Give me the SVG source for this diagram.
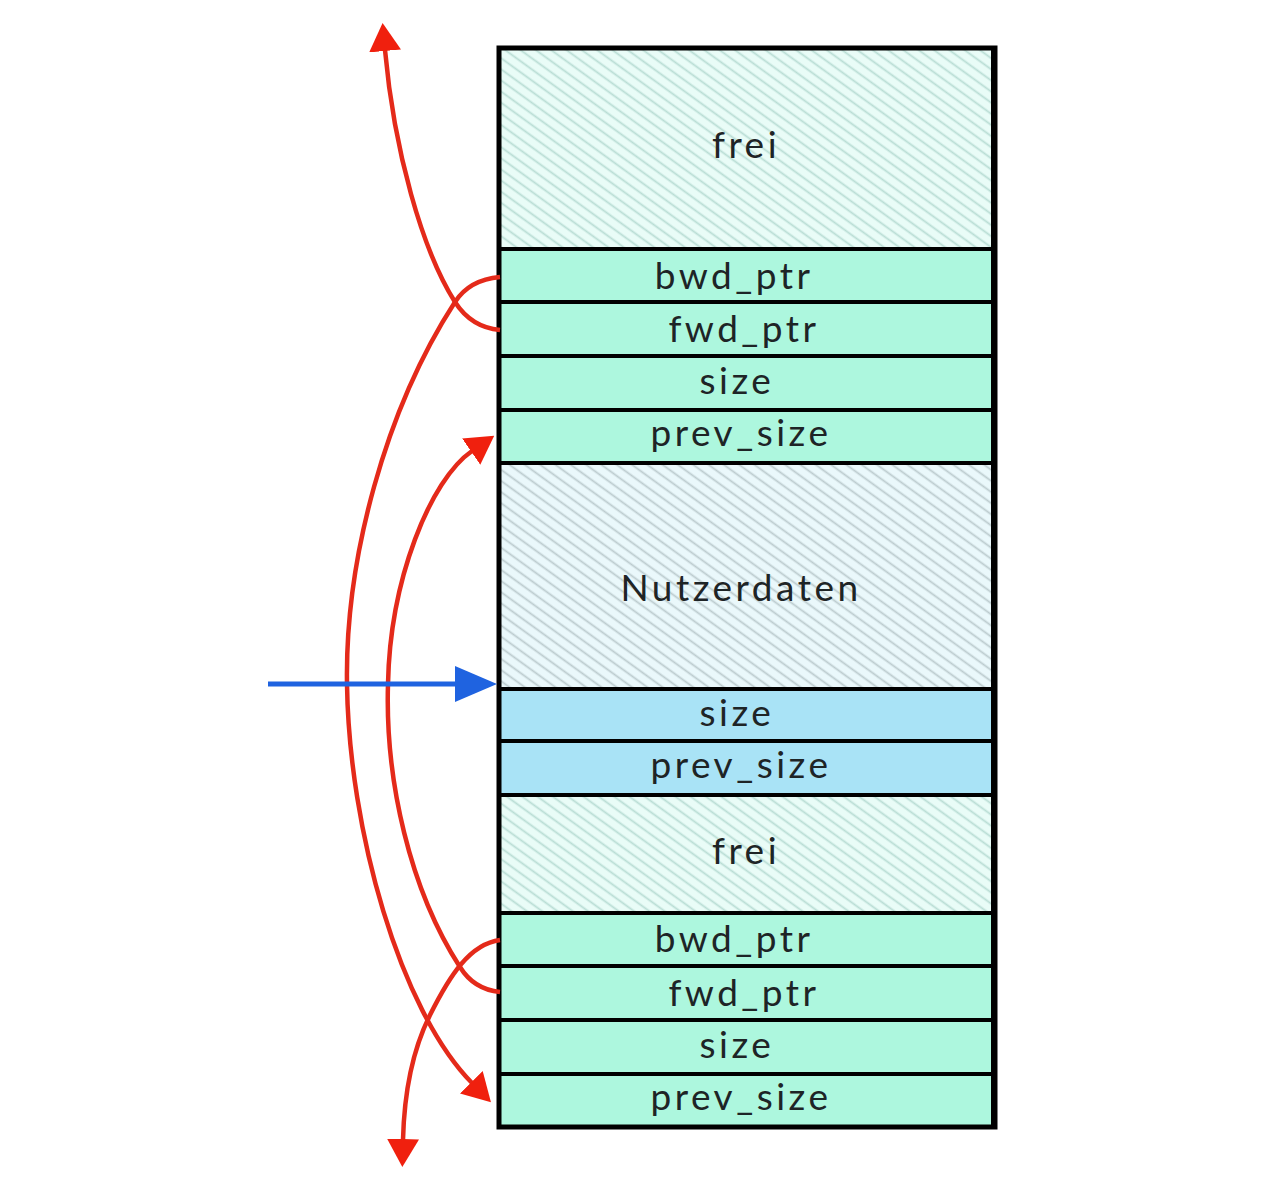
<svg xmlns="http://www.w3.org/2000/svg" width="1280" height="1190" viewBox="0 0 1280 1190">
<style>
.row{stroke:#000;stroke-width:4}
.g{fill:#adf7de}
.b{fill:#a9e3f6}
.t{font-family:"Lato","DejaVu Sans",sans-serif;font-size:37px;fill:#1e2426;text-anchor:middle;letter-spacing:3.5px}
.red{fill:none;stroke:#e42a1a;stroke-width:4.5}
</style>
<defs>
<pattern id="hf" width="9" height="9" patternUnits="userSpaceOnUse" patternTransform="rotate(36)">
<rect width="9" height="9" fill="#e9fcf7"/>
<line x1="0" y1="4.5" x2="9" y2="4.5" stroke="#b9ddd4" stroke-width="1.8"/>
</pattern>
<pattern id="hn" width="9" height="9" patternUnits="userSpaceOnUse" patternTransform="rotate(36)">
<rect width="9" height="9" fill="#eaf8fb"/>
<line x1="0" y1="4.5" x2="9" y2="4.5" stroke="#bccbce" stroke-width="1.8"/>
</pattern>
<marker id="ar" viewBox="0 0 28 32" refX="1" refY="16" markerWidth="28" markerHeight="32" markerUnits="userSpaceOnUse" orient="auto">
<path d="M0,0 L28,16 L0,32 z" fill="#f0200e"/>
</marker>
<marker id="ab" viewBox="0 0 42 36" refX="1" refY="18" markerWidth="42" markerHeight="36" markerUnits="userSpaceOnUse" orient="auto">
<path d="M0,0 L42,18 L0,36 z" fill="#1f63e0"/>
</marker>
</defs>
<g id="chunk1">
<g id="frei1"><rect class="row" x="499" y="48" width="494" height="201" fill="url(#hf)"/><text class="t" x="746" y="158">frei</text></g>
<g id="bwd1"><rect class="row g" x="499" y="249" width="494" height="53"/><text class="t" x="734" y="289">bwd_ptr</text></g>
<g id="fwd1"><rect class="row g" x="499" y="302" width="494" height="54"/><text class="t" x="744" y="342">fwd_ptr</text></g>
<g id="size1"><rect class="row g" x="499" y="356" width="494" height="54"/><text class="t" x="737" y="394">size</text></g>
<g id="prev1"><rect class="row g" x="499" y="410" width="494" height="53"/><text class="t" x="741" y="446">prev_size</text></g>
</g>
<g id="chunk2">
<g id="nutz"><rect class="row" x="499" y="463" width="494" height="226" fill="url(#hn)"/><text class="t" x="741" y="601">Nutzerdaten</text></g>
<g id="size2"><rect class="row b" x="499" y="689" width="494" height="52"/><text class="t" x="737" y="726">size</text></g>
<g id="prev2"><rect class="row b" x="499" y="741" width="494" height="54"/><text class="t" x="741" y="778">prev_size</text></g>
</g>
<g id="chunk3">
<g id="frei2"><rect class="row" x="499" y="795" width="494" height="118" fill="url(#hf)"/><text class="t" x="746" y="864">frei</text></g>
<g id="bwd2"><rect class="row g" x="499" y="913" width="494" height="53"/><text class="t" x="734" y="952">bwd_ptr</text></g>
<g id="fwd2"><rect class="row g" x="499" y="966" width="494" height="54"/><text class="t" x="744" y="1006">fwd_ptr</text></g>
<g id="size3"><rect class="row g" x="499" y="1020" width="494" height="54"/><text class="t" x="737" y="1058">size</text></g>
<g id="prev3"><rect class="row g" x="499" y="1074" width="494" height="53"/><text class="t" x="741" y="1110">prev_size</text></g>
</g>
<rect id="outer" x="499" y="48" width="496" height="1079" fill="none" stroke="#000" stroke-width="5"/>
<g id="connectors">
<path class="red" d="M 500 277 C 478 279, 464 288, 455 302 C 385 410, 345 560, 347 684 C 349 830, 400 1010, 472 1083" marker-end="url(#ar)"/>
<path class="red" d="M 500 330 C 478 328, 464 316, 455 302 C 422 250, 394 150, 385 50" marker-end="url(#ar)"/>
<path class="red" d="M 500 992 C 480 990, 468 980, 460 967 C 410 890, 385 780, 388 684 C 390 580, 430 480, 472 451" marker-end="url(#ar)"/>
<path class="red" d="M 500 940 C 470 944, 450 975, 430 1015 C 410 1055, 404 1100, 403 1140" marker-end="url(#ar)"/>
<path d="M 268 684 L 456 684" stroke="#1f63e0" stroke-width="5" fill="none" marker-end="url(#ab)"/>
</g>
</svg>
